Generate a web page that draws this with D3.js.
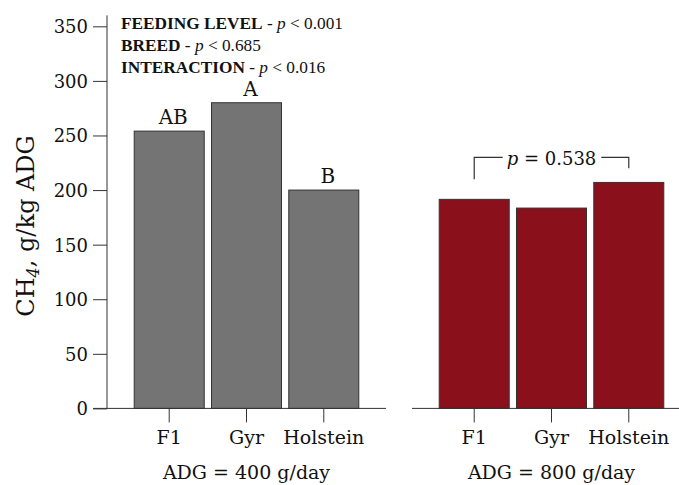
<!DOCTYPE html>
<html><head><meta charset="utf-8">
<script src="https://cdn.jsdelivr.net/npm/d3@7"></script>
<style>body{margin:0;background:#fff}svg{display:block}text{fill:#111}</style>
</head><body><svg id="c" width="679" height="485" font-family="DejaVu Serif"></svg>
<script>
const breeds = ["F1", "Gyr", "Holstein"];
const values400 = [254, 280, 200];
const values800 = [191.5, 183.5, 207];
const letters400 = ["AB", "A", "B"];
const panelTitles = ["ADG = 400 g/day", "ADG = 800 g/day"];
const yTicks = [0, 50, 100, 150, 200, 250, 300, 350];
const statLabels = ["FEEDING LEVEL", "BREED", "INTERACTION"];
const statPs = ["0.001", "0.685", "0.016"];
const bracketP = "0.538";
const bracketLevels = [230, 210, 220]; // top, left end, right end (y units)

const svg = d3.select("#c");
const y = d3.scaleLinear().domain([0, 360]).range([408.4, 15.4]);
const ink = "#333";
const serif = "DejaVu Serif";

// y axis
const yAxis = svg.append("g").attr("transform", "translate(107,0)")
  .call(d3.axisLeft(y).tickValues(yTicks).tickSize(14).tickPadding(5).tickSizeOuter(0));
yAxis.select(".domain").attr("stroke", ink).attr("d", `M0,${y(360)}V${y(0)}`);
yAxis.selectAll(".tick line").attr("stroke", ink);
yAxis.selectAll(".tick text").attr("font-size", 18).attr("font-family", serif).attr("fill", "#111").attr("dy", "0.36em");

// y label
svg.append("text").attr("transform", "translate(34,226) rotate(-90)").attr("text-anchor", "middle")
  .attr("font-size", 24)
  .call(t => {
    t.append("tspan").text("CH");
    t.append("tspan").text("4").attr("font-size", 16).attr("dy", 5).attr("font-style", "italic");
    t.append("tspan").text(", g/kg ADG").attr("dy", -5);
  });

const panels = [
  {range: [107, 386], vals: values400, fill: "#747474", lineStart: 93},
  {range: [412, 691], vals: values800, fill: "#8a111b", lineStart: 412}
];
const xs = [];
panels.forEach((p, i) => {
  const x = d3.scaleBand().domain(breeds).range(p.range).paddingInner(0.094).paddingOuter(0.352);
  xs.push(x);
  const g = svg.append("g");
  g.selectAll("rect").data(breeds).join("rect")
    .attr("x", d => x(d)).attr("width", x.bandwidth())
    .attr("y", (d, j) => y(p.vals[j])).attr("height", (d, j) => y(0) - y(p.vals[j]))
    .attr("fill", p.fill).attr("stroke", ink).attr("stroke-width", 1);
  const ax = svg.append("g").attr("transform", `translate(0,${y(0)})`)
    .call(d3.axisBottom(x).tickSize(14).tickPadding(8).tickSizeOuter(0));
  ax.select(".domain").attr("stroke", ink).attr("d", `M${p.lineStart},0H${p.range[1]}`);
  ax.selectAll(".tick line").attr("stroke", ink);
  ax.selectAll(".tick text").attr("font-size", 19).attr("font-family", serif).attr("fill", "#111");
  const cx = (x(breeds[0]) + x(breeds[2]) + x.bandwidth()) / 2;
  svg.append("text").attr("x", cx).attr("y", 479).attr("text-anchor", "middle").attr("font-size", 19).text(panelTitles[i]);
});

// letters
svg.append("g").selectAll("text").data(breeds).join("text")
  .attr("x", d => xs[0](d) + xs[0].bandwidth() / 2 + 4)
  .attr("y", (d, j) => y(values400[j]) - 7)
  .attr("text-anchor", "middle").attr("font-size", 20)
  .text((d, j) => letters400[j]);

// stats
statLabels.forEach((s, i) => {
  const t = svg.append("text").attr("x", 121).attr("y", 29 + i * 22).attr("font-size", 17.3)
    .attr("font-family", "Liberation Serif");
  t.append("tspan").text(s).attr("font-weight", "bold");
  t.append("tspan").text(" - ");
  t.append("tspan").text("p").attr("font-style", "italic");
  t.append("tspan").text(" < " + statPs[i]);
});

// bracket
const xr = xs[1];
const bx1 = xr("F1") + xr.bandwidth() / 2, bx2 = xr("Holstein") + xr.bandwidth() / 2;
const by = y(bracketLevels[0]);
const bt = svg.append("text").attr("x", (bx1 + bx2) / 2).attr("y", by + 8).attr("text-anchor", "middle").attr("font-size", 18);
bt.append("tspan").text("p").attr("font-style", "italic");
bt.append("tspan").text(" = " + bracketP);
const bb = bt.node().getBBox();
svg.append("path").attr("fill", "none").attr("stroke", ink).attr("stroke-width", 1.2)
  .attr("d", `M${bx1},${y(bracketLevels[1])}V${by}H${bb.x - 4}M${bb.x + bb.width + 5},${by}H${bx2}V${y(bracketLevels[2])}`);
</script></body></html>
